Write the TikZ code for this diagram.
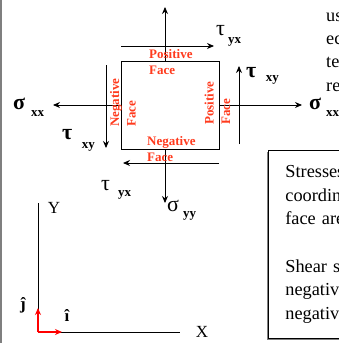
\documentclass[tikz,border=0pt]{standalone}
\usepackage{fontspec}
\setmainfont{Liberation Serif}
\usepackage{xcolor}
\usepackage{tikz}
\usetikzlibrary{arrows.meta, shadows}
\definecolor{facered}{HTML}{FF3B1E}
\definecolor{framegray}{HTML}{7F7F7F}
% symbol, gap, drop, subscript
\newcommand{\slab}[4]{#1\hspace{#2}\raisebox{#3}{\fontsize{13}{13}\selectfont\bfseries #4}}

\begin{document}
\begin{tikzpicture}[
    x=1pt, y=-1pt,
    stress/.style={line width=0.9pt, -{Stealth[length=7pt,width=6pt]}},
    unitvec/.style={line width=1.1pt, red, -{Stealth[length=7pt,width=6pt]}},
    facelabel/.style={text=facered, font=\fontsize{13}{16.5}\selectfont\bfseries, align=left, inner sep=0pt},
    symlabel/.style={font=\fontsize{22}{22}\selectfont, inner sep=0pt, anchor=base west},
    axislabel/.style={font=\fontsize{17}{17}\selectfont, inner sep=0pt},
    notebox/.style={draw, fill=white, line width=0.8pt, text width=110pt, minimum height=188pt, inner xsep=17pt, align=left,
      font=\fontsize{18.3}{23.6}\selectfont, drop shadow={shadow xshift=-1pt, shadow yshift=-2pt, fill=framegray, opacity=1}}
  ]
    \useasboundingbox (0,0) rectangle (338,343);
    \draw[framegray, line width=1.2pt] (1,0) -- (1,343);

    % the element
    \node[draw, line width=0.8pt, minimum width=98pt, minimum height=88pt, inner sep=0pt] (elem) at (170,105) {};

    \coordinate (topbase) at (165,61);
    \coordinate (toptip) at (165,7);
    \coordinate (topshear0) at (121,46);
    \coordinate (topshear1) at (214,46);
    \coordinate (lefttip) at (53,105);
    \coordinate (leftshear0) at (106,65);
    \coordinate (leftshear1) at (106,148);
    \coordinate (righttip) at (302,105);
    \coordinate (rightshear0) at (239,144);
    \coordinate (rightshear1) at (239,66);
    \coordinate (botshear0) at (219,163);
    \coordinate (botshear1) at (123,163);
    \coordinate (botbase) at (165,149);
    \coordinate (bottip) at (165,203);

    \draw[stress] (topbase) -- (toptip);
    \draw[stress] (topshear0) -- (topshear1);
    \draw[stress] (elem.west) -- (lefttip);
    \draw[stress] (leftshear0) -- (leftshear1);
    \draw[stress] (elem.east) -- (righttip);
    \draw[stress] (rightshear0) -- (rightshear1);
    \draw[stress] (botshear0) -- (botshear1);
    \draw[stress] (botbase) -- (bottip);

    % face labels
    \node[facelabel, anchor=west] (facetop) at (149,62) {Positive\\Face};
    \node[facelabel, anchor=west] (facebot) at (147,149) {Negative\\Face};
    \node[facelabel, anchor=west, rotate=90] (faceleft) at (123,127) {Negative\\Face};
    \node[facelabel, anchor=west, rotate=90] (faceright) at (217.5,125) {Positive\\Face};

    % stress symbols
    \node[symlabel] (sxxleft) at (13,109) {\slab{\bfseries σ}{6pt}{-7pt}{xx}};
    \node[symlabel] (txyleft) at (62,139) {\slab{\bfseries τ}{9.5pt}{-9pt}{xy}};
    \node[symlabel] (tyxtop) at (216,35) {\slab{τ}{3pt}{-8pt}{yx}};
    \node[symlabel] (txyright) at (246,77) {\slab{\bfseries τ}{9.5pt}{-4pt}{xy}};
    \node[symlabel] (sxxright) at (309,109) {\slab{\bfseries σ}{5pt}{-7pt}{xx}};
    \node[symlabel] (tyxbot) at (101,190) {\slab{τ}{8pt}{-6pt}{yx}};
    \node[symlabel] (syybot) at (167,211) {\slab{σ}{4pt}{-6pt}{yy}};

    % axes
    \coordinate (origin) at (38,332);
    \coordinate (yend) at (38,203);
    \coordinate (xend) at (180,332);
    \coordinate (jtip) at (38,308);
    \coordinate (itip) at (62,332);
    \draw[line width=0.8pt] (yend) -- (origin) -- (xend);
    \draw[unitvec] (origin) -- (jtip);
    \draw[unitvec] (origin) -- (itip);
    \node[axislabel] (ylab) at (54,208) {Y};
    \node[axislabel] (xlab) at (202,332) {X};
    \node[axislabel] (jlab) at (23,305) {\bfseries ĵ};
    \node[axislabel] (ilab) at (67,316) {\bfseries î};

    % cut-off text on the right
    \node[axislabel, anchor=west, align=left, font=\fontsize{18.3}{23.2}\selectfont] (sidetext) at (326,52) {us\\ec\\te\\re};
    \node[notebox, anchor=north west] (note) at (268,150) {Stresses\\coordinate\\face are\\[23.6pt]Shear st\\negative\\negative};
\end{tikzpicture}
\end{document}
